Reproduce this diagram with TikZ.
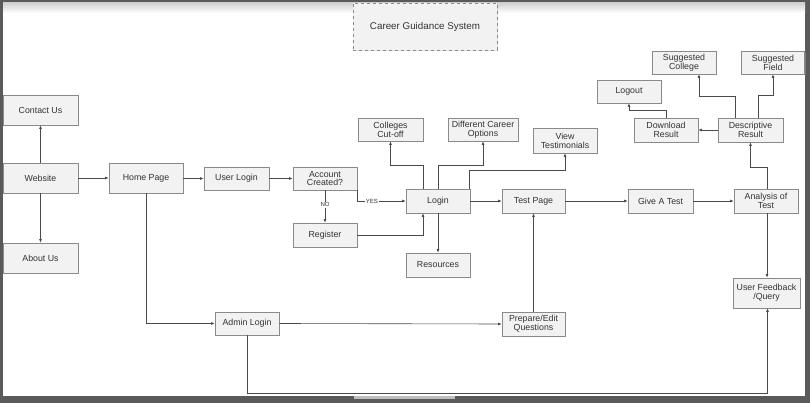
\documentclass[tikz,border=0pt]{standalone}
\usepackage{fontspec}
\setmainfont{Liberation Sans}
\usetikzlibrary{arrows.meta,shadows}
\definecolor{framecol}{HTML}{5A5A5A}
\definecolor{boxfill}{HTML}{F2F2F2}
\definecolor{boxline}{HTML}{8A8A8A}
\definecolor{txt}{HTML}{333333}
\definecolor{linecol}{HTML}{4A4A4A}
\tikzset{
  box/.style={draw=boxline, fill=boxfill, line width=0.6pt, align=center, text=txt,
    inner sep=1pt, font=\fontsize{8.8}{8.8}\selectfont,
    drop shadow={shadow xshift=1.2pt, shadow yshift=-1.2pt, fill=black!40, opacity=0.5}},
  arr/.style={draw=linecol, line width=0.6pt, -{Latex[length=3.5pt,width=2.8pt]}},
  lbl/.style={fill=white, inner sep=0.8pt, text=txt, font=\fontsize{6}{6}\selectfont}
}
\begin{document}
\begin{tikzpicture}[x=1pt,y=-1pt]
\useasboundingbox (0,0) rectangle (810,403);
\fill[framecol] (0,0) rectangle (810,403);
\fill[white] (3,3) rectangle (805,396);
\shade[top color=black!18, bottom color=white] (3,3) rectangle (805,13);
\fill[black!25] (354,396) rectangle (455,399);
% title
\node[draw=boxline, dashed, fill=boxfill, line width=0.6pt, text=txt, font=\fontsize{9.8}{10}\selectfont,
  minimum width=144pt, minimum height=47pt,
  drop shadow={shadow xshift=1pt, shadow yshift=-1pt, fill=black!30, opacity=0.4}] (title) at (425,26.5) {Career Guidance System};
% boxes
\node[box, minimum width=75pt, minimum height=30pt] (contact) at (40.5,110) {Contact Us};
\node[box, minimum width=75pt, minimum height=30pt] (website) at (40.5,178) {Website};
\node[box, minimum width=75pt, minimum height=30pt] (about) at (40.5,258) {About Us};
\node[box, minimum width=74pt, minimum height=30pt] (home) at (146,178) {Home Page};
\node[box, minimum width=65pt, minimum height=23pt] (user) at (236.5,178.5) {User Login};
\node[box, minimum width=64pt, minimum height=23pt] (account) at (325,178.5) {Account\\Created?};
\node[box, minimum width=64pt, minimum height=24pt] (register) at (325,235) {Register};
\node[box, minimum width=64pt, minimum height=24pt] (login) at (438,201) {Login};
\node[box, minimum width=64pt, minimum height=24pt] (resources) at (438,265) {Resources};
\node[box, minimum width=65pt, minimum height=23pt] (colleges) at (390.5,129.5) {Colleges\\Cut-off};
\node[box, minimum width=70pt, minimum height=23pt] (career) at (483,129.5) {Different Career\\Options};
\node[box, minimum width=64pt, minimum height=25pt] (testim) at (565,140.5) {View\\Testimonials};
\node[box, minimum width=63pt, minimum height=24pt] (testpage) at (533.5,201) {Test Page};
\node[box, minimum width=65pt, minimum height=24pt] (give) at (660.5,201) {Give A Test};
\node[box, minimum width=64pt, minimum height=24pt] (analysis) at (766,201) {Analysis of\\Test};
\node[box, minimum width=65pt, minimum height=24pt] (descr) at (750.5,130) {Descriptive\\Result};
\node[box, minimum width=64pt, minimum height=24pt] (download) at (666,130) {Download\\Result};
\node[box, minimum width=64pt, minimum height=23pt] (logout) at (629,91.5) {Logout};
\node[box, minimum width=64pt, minimum height=23pt] (sugcol) at (684,62.5) {Suggested\\College};
\node[box, minimum width=63pt, minimum height=23pt] (sugfield) at (773,62.5) {Suggested\\Field};
\node[box, minimum width=67pt, minimum height=30pt] (feedback) at (766.5,293) {User Feedback\\/Query};
\node[box, minimum width=64pt, minimum height=23pt] (admin) at (247,323.5) {Admin Login};
\node[box, minimum width=63pt, minimum height=24pt] (prepare) at (533.5,324) {Prepare/Edit\\Questions};
% connectors
\draw[arr] (website.north) -- (contact.south);
\draw[arr] (website.south) -- (about.north);
\draw[arr] (website.east) -- (home.west);
\draw[arr] (home.east |- user.west) -- (user.west);
\draw[arr] (user.east) -- (account.west);
\draw[arr] (account.south) -- node[lbl, pos=0.45] {NO} (register.north);
\draw[arr] (account.south east) |- node[lbl, pos=0.65] {YES} (login.west);
\draw[arr] (register.east) -| ([xshift=-15pt]login.south);
\draw[arr] ([xshift=-15pt]login.north) -- ([xshift=-15pt]login.north |- 0,165) -| (colleges.south);
\draw[arr] (login.north) -- (login.north |- 0,165) -| (career.south);
\draw[arr] ([xshift=31pt]login.north) -- ([xshift=31pt]login.north |- 0,170) -| (testim.south);
\draw[arr] (login.south) -- (resources.north);
\draw[arr] (login.east) -- (testpage.west);
\draw[arr] (testpage.east) -- (give.west);
\draw[arr] (give.east) -- (analysis.west);
\draw[arr] ([xshift=1pt]analysis.north) -- ([xshift=1pt]analysis.north |- 0,167) -| (descr.south);
\draw[arr] ([xshift=1pt]analysis.south) -- ([xshift=1pt]analysis.south |- feedback.north);
\draw[arr] (descr.west) -- (download.east);
\draw[arr] ([xshift=-15.5pt]descr.north) -- ([xshift=-15.5pt]descr.north |- 0,96) -| ([xshift=15pt]sugcol.south);
\draw[arr] ([xshift=7.5pt]descr.north) -- ([xshift=7.5pt]descr.north |- 0,95) -| (sugfield.south);
\draw[arr] (download.north) -- (download.north |- 0,110) -| (logout.south);
\draw[arr] (home.south) |- (admin.west);
\draw[arr] (admin.east) -- (prepare.west);
\draw[arr] (prepare.north) -- (testpage.south);
\draw[arr] (admin.south) -- (admin.south |- 0,393) -| ([xshift=1pt]feedback.south);
\end{tikzpicture}
\end{document}
